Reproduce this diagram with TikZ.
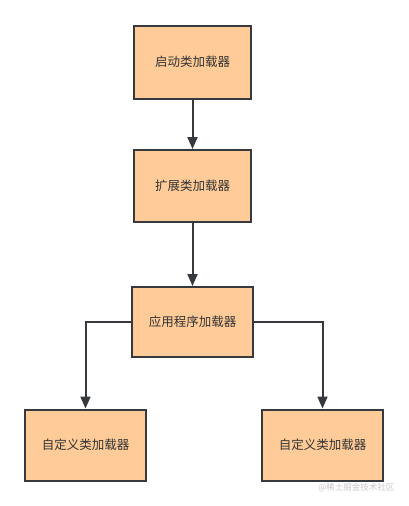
\documentclass[tikz,border=0pt]{standalone}
\usepackage{fontspec}
\newfontfamily\cjk{Noto Sans CJK SC}
\usetikzlibrary{arrows.meta}
\definecolor{boxfill}{HTML}{FFCC99}
\definecolor{boxline}{HTML}{36393D}
\definecolor{txt}{HTML}{333333}
\definecolor{wm}{HTML}{C8C8C8}
\tikzset{
  loader/.style={draw=boxline, line width=2pt, fill=boxfill, minimum width=117pt, minimum height=73pt, inner sep=0pt, font=\cjk\fontsize{12.5}{14}\selectfont, text=txt},
  conn/.style={draw=boxline, line width=2pt, -{Triangle[width=10pt,length=12pt]}}
}
\begin{document}
\begin{tikzpicture}[x=1pt,y=-1pt]
\useasboundingbox (0,0) rectangle (408,506);
\fill[white] (0,0) rectangle (408,506);
\node[loader] (a) at (192.5,62) {启动类加载器};
\node[loader, minimum height=72pt] (b) at (192.5,186) {扩展类加载器};
\node[loader, minimum width=121pt, minimum height=70pt] (c) at (192.5,322) {应用程序加载器};
\node[loader, minimum width=121pt, minimum height=71pt] (d) at (85.5,445) {自定义类加载器};
\node[loader, minimum width=121pt, minimum height=71pt] (e) at (322.5,445) {自定义类加载器};
\node[text=wm, font=\cjk\fontsize{8.5}{10}\selectfont, anchor=east] (w) at (398,488) {@稀土掘金技术社区};
\draw[conn] (a.south) -- (b.north);
\draw[conn] (b.south) -- (c.north);
\draw[conn] (c.west) -| (d.north);
\draw[conn] (c.east) -| (e.north);
\end{tikzpicture}
\end{document}
